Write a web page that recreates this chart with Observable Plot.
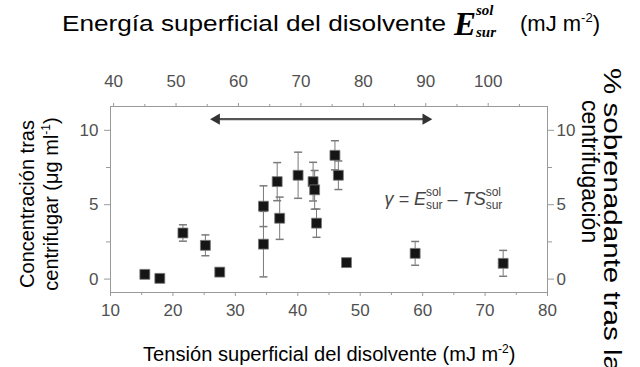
<!DOCTYPE html>
<html><head><meta charset="utf-8">
<script src="https://cdn.jsdelivr.net/npm/d3@7"></script>
<script src="https://cdn.jsdelivr.net/npm/@observablehq/plot@0.6"></script>
<style>
html,body{margin:0;padding:0;background:#fff;}
#chart{width:640px;height:367px;overflow:hidden;}
text{white-space:pre;}
</style></head><body><div id="chart"></div>
<script>
// ---- data ----
const tension = [15.5, 17.9, 21.6, 25.2, 27.5, 34.5, 34.5, 36.7, 37.1, 40.05, 42.45, 42.7, 43.0, 45.95, 46.5, 47.8, 58.8, 72.9];
const concentration = [0.32, 0.05, 3.1, 2.27, 0.47, 4.9, 2.35, 6.55, 4.09, 6.98, 6.55, 6.0, 3.76, 8.32, 6.98, 1.11, 1.73, 1.06];
const errorBar = [0, 0, 0.55, 0.7, 0, 1.37, 2.2, 1.28, 1.42, 1.55, 1.3, 1.3, 0.95, 0.98, 0.96, 0.2, 0.8, 0.87];
const xTicks = [10, 20, 30, 40, 50, 60, 70, 80];
const xMinor = [15, 25, 35, 45, 55, 65, 75];
const topTicks = [40, 50, 60, 70, 80, 90, 100];
const topMinor = [45, 55, 65, 75, 85, 95, 105];
const energyOffset = 29.5; // top-axis energy = tension + offset
const yTicks = [0, 5, 10];
const yMinor = [2.5, 7.5];
const arrowRange = [26.5, 61];
const arrowLevel = 10.75;
const eqPos = [63.4, 4.95];

const data = tension.map((x, i) => ({x, y: concentration[i], e: errorBar[i]}));

const tickFont = "'Liberation Sans Narrow','Arial Narrow','Liberation Sans',Arial,sans-serif";
const labelFont = "'Liberation Sans',Arial,sans-serif";
const axisGrey = "#9a9a9a";
const textGrey = "#505050";

const capSymbol = {draw(ctx, size) { const r = Math.sqrt(size / Math.PI); ctx.moveTo(-r, 0); ctx.lineTo(r, 0); }};

const plot = Plot.plot({
  width: 640, height: 367,
  marginLeft: 110, marginRight: 93, marginTop: 106, marginBottom: 75,
  style: {fontFamily: tickFont, fontSize: "17px", background: "#fff", color: textGrey},
  x: {domain: [10, 80]},
  y: {domain: [-0.9, 11.6]},
  marks: [
    Plot.frame({stroke: axisGrey}),
    Plot.axisX({anchor: "bottom", ticks: xTicks, tickSize: 4, tickPadding: 7, stroke: axisGrey, fill: textGrey, fontSize: 17, label: null}),
    Plot.axisX({anchor: "bottom", ticks: xMinor, tickSize: 3, stroke: axisGrey, tickFormat: () => "", label: null}),
    Plot.axisX({anchor: "top", ticks: topTicks.map(v => v - energyOffset), tickFormat: d => String(Math.round(d + energyOffset)), tickSize: 4, tickPadding: 16, stroke: axisGrey, fill: textGrey, fontSize: 17, label: null}),
    Plot.axisX({anchor: "top", ticks: topMinor.map(v => v - energyOffset), tickFormat: () => "", tickSize: 3, stroke: axisGrey, label: null}),
    Plot.axisY({anchor: "left", ticks: yTicks, tickSize: 6, tickPadding: 6, stroke: axisGrey, fill: textGrey, fontSize: 17, label: null}),
    Plot.axisY({anchor: "left", ticks: yMinor, tickSize: 4, tickFormat: () => "", stroke: axisGrey, label: null}),
    Plot.axisY({anchor: "right", ticks: yTicks, tickSize: 6, tickPadding: 3, stroke: axisGrey, fill: textGrey, fontSize: 17, label: null}),
    Plot.axisY({anchor: "right", ticks: yMinor, tickSize: 4, tickFormat: () => "", stroke: axisGrey, label: null}),
    Plot.ruleX(data.filter(d => d.e > 0), {x: "x", y1: d => d.y - d.e, y2: d => d.y + d.e, stroke: "#7a7a7a", strokeWidth: 1}),
    Plot.dot(data.filter(d => d.e > 0), {x: "x", y: d => d.y - d.e, symbol: capSymbol, r: 4, stroke: "#7a7a7a", fill: "none"}),
    Plot.dot(data.filter(d => d.e > 0), {x: "x", y: d => d.y + d.e, symbol: capSymbol, r: 4, stroke: "#7a7a7a", fill: "none"}),
    Plot.dot(data, {x: "x", y: "y", symbol: "square", r: 5.6, fill: "#151515", stroke: "#777", strokeWidth: 0.8}),
    Plot.link([0], {x1: () => arrowRange[0] + 0.6, x2: () => arrowRange[1] - 0.6, y1: () => arrowLevel, y2: () => arrowLevel, stroke: "#555", strokeWidth: 2.2}),
    Plot.dot([0], {x: () => arrowRange[0] + 0.5, y: () => arrowLevel, symbol: "triangle", rotate: -90, r: 4.2, fill: "#333", stroke: "none"}),
    Plot.dot([0], {x: () => arrowRange[1] - 0.5, y: () => arrowLevel, symbol: "triangle", rotate: 90, r: 4.2, fill: "#333", stroke: "none"})
  ]
});
document.getElementById("chart").appendChild(plot);

const svg = d3.select(plot);
// rich text: parts placed one after another; a part may set an absolute start (at) or a forced length (len)
function rich(x, y, parts, {anchor = "start", rotate = 0, fill = "#000"} = {}) {
  const outer = svg.append("g").attr("fill", fill).attr("text-anchor", "start");
  const g = outer.append("g");
  let cx = 0;
  const put = (q, at) => {
    const t = g.append("text").attr("x", at).attr("y", q.shift || 0).attr("text-anchor", "start").text(q.text)
      .attr("font-family", q.family || labelFont).attr("font-size", q.size || 20)
      .attr("font-style", q.italic ? "italic" : "normal").attr("font-weight", q.bold ? "bold" : "normal");
    if (q.len) { t.attr("textLength", q.len).attr("lengthAdjust", "spacingAndGlyphs"); return q.len; }
    return t.node().getComputedTextLength();
  };
  for (const p of parts) {
    if (p.at !== undefined) cx = p.at;
    if (p.stack) { let w = 0; for (const q of p.stack) w = Math.max(w, put(q, cx)); cx += w; }
    else cx += put(p, cx);
  }
  const off = anchor === "middle" ? -cx / 2 : anchor === "end" ? -cx : 0;
  g.attr("transform", `translate(${off},0)`);
  outer.attr("transform", `translate(${x},${y}) rotate(${rotate})`);
}
const serif = "'Liberation Serif','Times New Roman',serif";
// top title
rich(62, 31, [
  {text: "Energía superficial del disolvente", size: 22, len: 384},
  {at: 392, text: "E", family: serif, italic: true, bold: true, size: 33, shift: 4},
  {stack: [{text: "sol", family: serif, italic: true, bold: true, size: 15, shift: -16}, {text: "sur", family: serif, italic: true, bold: true, size: 15, shift: 6}]},
  {at: 458, text: "(mJ m", size: 22},
  {text: "-2", size: 13, shift: -9},
  {text: ")", size: 22}
]);
// bottom title
rich(143, 361, [
  {text: "Tensión superficial del disolvente", size: 20, len: 294},
  {text: " (mJ m", size: 20},
  {text: "-2", size: 12, shift: -8},
  {text: ")", size: 20}
]);
// left titles
rich(34, 204, [{text: "Concentración tras", size: 20}], {anchor: "middle", rotate: -90});
rich(58, 204, [{text: "centrifugar (μg ml", size: 20}, {text: "-1", size: 12, shift: -8}, {text: ")", size: 20}], {anchor: "middle", rotate: -90});
// right titles
rich(604, 68, [{text: "% sobrenadante tras la", size: 23, len: 304}], {rotate: 90});
rich(582, 100, [{text: "centrifugación", size: 23}], {rotate: 90});
// equation
const sx = plot.scale("x"), sy = plot.scale("y");
const eqFont = "'Liberation Sans Narrow','Liberation Sans',sans-serif";
rich(sx.apply(eqPos[0]), sy.apply(eqPos[1]), [
  {text: "γ = ", family: eqFont, italic: true, size: 18},
  {text: "E", family: eqFont, italic: true, size: 18},
  {stack: [{text: "sol", family: eqFont, size: 12, shift: -9}, {text: "sur", family: eqFont, size: 12, shift: 4}]},
  {text: " – ", family: eqFont, size: 18},
  {text: "TS", family: eqFont, italic: true, size: 18},
  {stack: [{text: "sol", family: eqFont, size: 12, shift: -9}, {text: "sur", family: eqFont, size: 12, shift: 4}]}
], {anchor: "middle", fill: "#444"});
</script>
</body></html>
